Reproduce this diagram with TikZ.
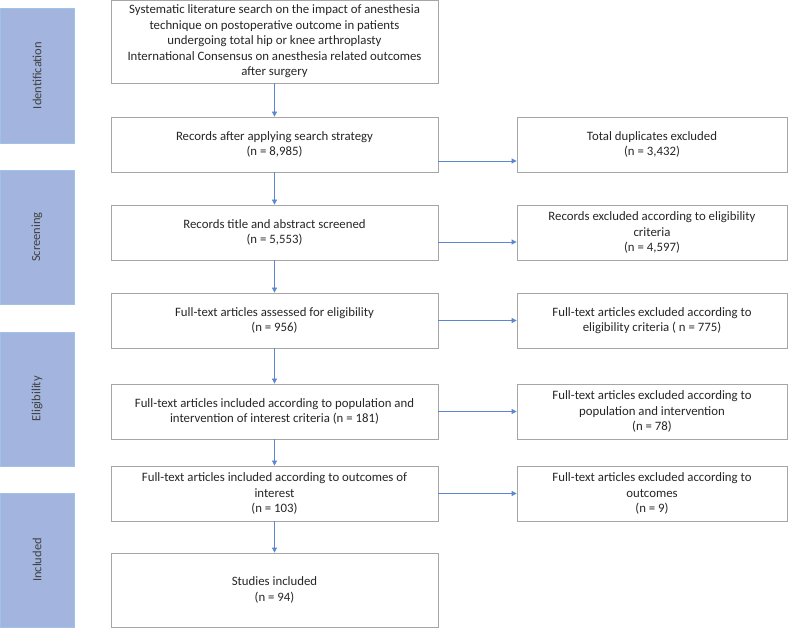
\documentclass[tikz,border=0pt]{standalone}
\usepackage{fontspec}
\setmainfont{Carlito}
\usetikzlibrary{arrows.meta}

\definecolor{phasefill}{HTML}{A3B5DF}
\definecolor{phaseline}{HTML}{9DC3E6}
\definecolor{arrowblue}{HTML}{5B86D0}
\tikzset{
  flowbox/.style={draw=gray!70,line width=0.8pt,fill=white,align=center,inner sep=2pt,
    font=\fontsize{12.8}{15.5}\selectfont,text=black!85},
  mainbox/.style={flowbox,minimum width=327pt},
  sidebox/.style={flowbox,minimum width=270pt},
  phasebox/.style={draw=phaseline,line width=0.8pt,fill=phasefill,minimum width=74pt,minimum height=134pt,
    font=\fontsize{12.5}{13}\selectfont,text=black!75},
  flowarrow/.style={draw=arrowblue,line width=0.8pt,-{Triangle[length=5pt,width=5pt]}}
}

\begin{document}
\begin{tikzpicture}[x=1pt,y=-1pt]
  \useasboundingbox (0,0) rectangle (788,628);
  % phases
  \node[phasebox,minimum height=135pt] (ident) at (37,75.5) {\rotatebox{90}{Identification}};
  \node[phasebox] (screenph) at (37,237) {\rotatebox{90}{Screening}};
  \node[phasebox] (eligph) at (37,399) {\rotatebox{90}{Eligibility}};
  \node[phasebox] (inclph) at (37,560) {\rotatebox{90}{Included}};
  % main column
  \node[mainbox,minimum height=83pt] (search) at (274.5,41.5) {Systematic literature search on the impact of anesthesia\\ technique on postoperative outcome in patients\\ undergoing total hip or knee arthroplasty\\ International Consensus on anesthesia related outcomes\\ after surgery};
  \node[mainbox,minimum height=55pt] (records) at (274.5,144.5) {Records after applying search strategy\\ (n = 8,985)};
  \node[mainbox,minimum height=55pt] (screened) at (274.5,232.5) {Records title and abstract screened\\ (n = 5,553)};
  \node[mainbox,minimum height=55pt] (fulltext) at (274.5,320.5) {Full-text articles assessed for eligibility\\ (n = 956)};
  \node[mainbox,minimum height=55pt] (population) at (274.5,411.5) {Full-text articles included according to population and\\ intervention of interest criteria (n = 181)};
  \node[mainbox,minimum height=55pt] (outcomes) at (274.5,493.5) {Full-text articles included according to outcomes of\\ interest\\ (n = 103)};
  \node[mainbox,minimum height=74pt] (studies) at (274.5,590) {Studies included\\ (n = 94)};
  % exclusions
  \node[sidebox,minimum height=55pt] (dupl) at (652,144.5) {Total duplicates excluded\\ (n = 3,432)};
  \node[sidebox,minimum height=55pt] (exscreen) at (652,232.5) {Records excluded according to eligibility\\ criteria\\ (n = 4,597)};
  \node[sidebox,minimum height=55pt] (exfull) at (652,320.5) {Full-text articles excluded according to\\ eligibility criteria ( n = 775)};
  \node[sidebox,minimum height=55pt] (expop) at (652,411.5) {Full-text articles excluded according to\\ population and intervention\\ (n = 78)};
  \node[sidebox,minimum height=55pt] (exout) at (652,493.5) {Full-text articles excluded according to\\ outcomes\\ (n = 9)};
  % arrows down
  \foreach \a/\b in {search/records,records/screened,screened/fulltext,fulltext/population,population/outcomes,outcomes/studies}
    \draw[flowarrow] (\a.south) -- (\b.north);
  % arrows right
  \draw[flowarrow] ([yshift=-16.5pt]records.east) -- ([yshift=-16.5pt]records.east -| dupl.west);
  \draw[flowarrow] ([yshift=-9.5pt]screened.east) -- ([yshift=-9.5pt]screened.east -| exscreen.west);
  \draw[flowarrow] (fulltext.east) -- (exfull.west);
  \draw[flowarrow] (population.east) -- (expop.west);
  \draw[flowarrow] (outcomes.east) -- (exout.west);
\end{tikzpicture}
\end{document}
